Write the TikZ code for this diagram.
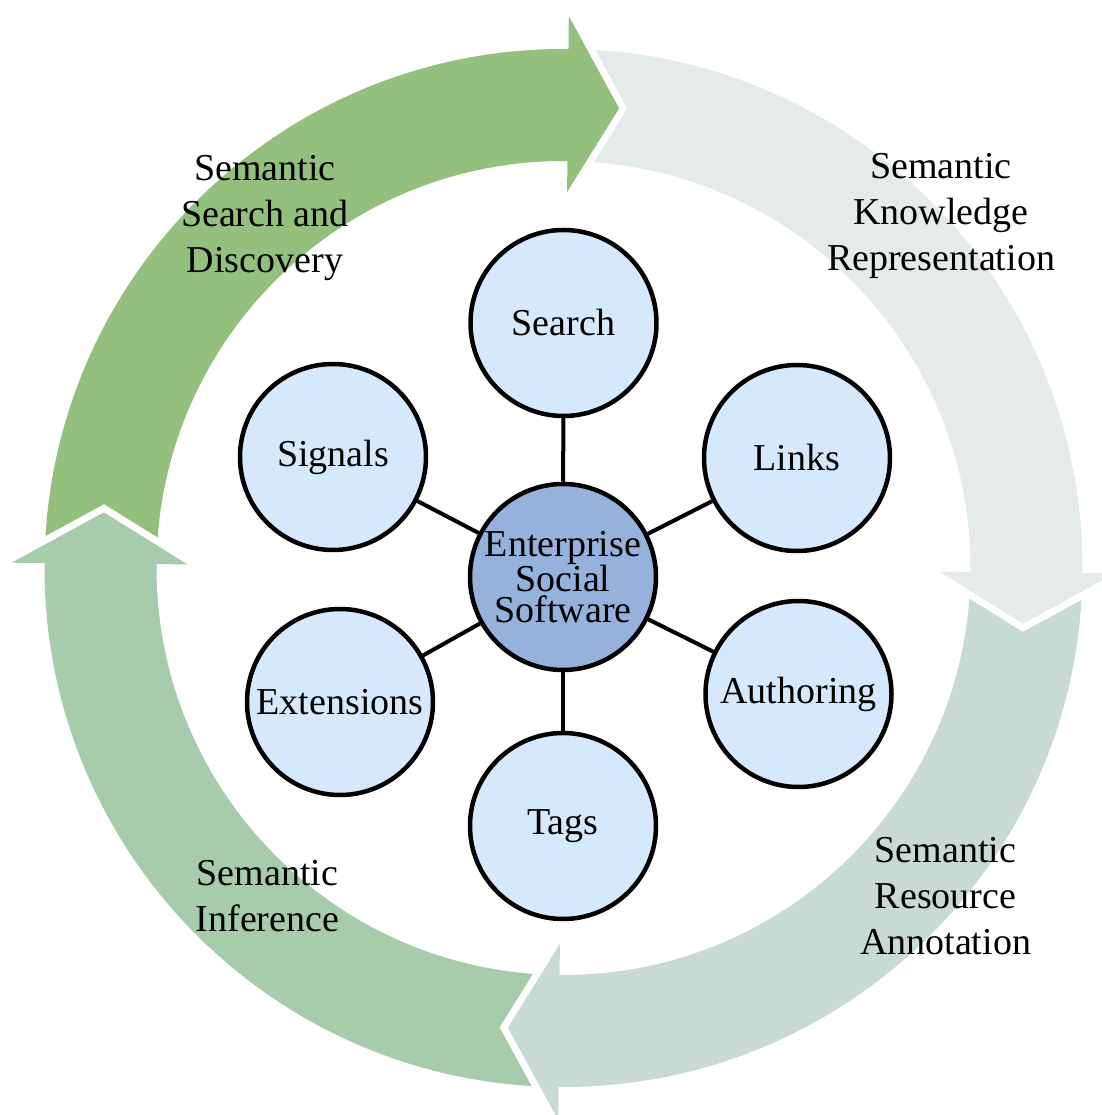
\documentclass[tikz,border=0pt]{standalone}
\usepackage{fontspec}
\setmainfont{Liberation Serif}
\usepackage{tikz}
\usetikzlibrary{calc}
\definecolor{arrowA}{HTML}{94C07E}
\definecolor{arrowB}{HTML}{E4EBEA}
\definecolor{arrowC}{HTML}{C7DBD4}
\definecolor{arrowD}{HTML}{A6CCAB}
\definecolor{bubbleblue}{HTML}{D6E8FC}
\definecolor{hubblue}{HTML}{94B2DC}
\tikzset{
  segment/.style={preaction={draw=white, line width=14pt}},
  bubble/.style={circle, draw=black, line width=4.5pt, fill=bubbleblue, minimum size=186pt, inner sep=0pt, font=\fontsize{38}{46}\selectfont},
  hub/.style={bubble, fill=hubblue, align=center, font=\fontsize{38}{31}\selectfont},
  phase/.style={align=center, font=\fontsize{38}{46}\selectfont},
  spoke/.style={line width=4pt}
}

\begin{document}
\begin{tikzpicture}[x=1pt, y=1pt]
        \useasboundingbox (-563.5, -547) rectangle (537.5, 568);
        \foreach \b/\col in {-180/arrowD, -90/arrowC, 0/arrowB, 90/arrowA} {
            \fill[segment, fill=\col] ({\b+89}:519) arc[start angle={\b+89}, end angle={\b-0.55}, radius=519]
                -- ({\b-0.55}:552) -- ({\b-6.9}:463) -- ({\b-0.55}:376) -- ({\b-0.55}:407)
                arc[start angle={\b-0.55}, end angle={\b+89}, radius=407] -- cycle;
        }
        \begin{scope}
            \clip (0, 0) -- (150:700) -- (210:700) -- cycle;
            \fill[segment, fill=arrowD] (-91:519) arc[start angle=-91, end angle=-180.55, radius=519]
                -- (-180.55:552) -- (-186.9:463) -- (-180.55:376) -- (-180.55:407)
                arc[start angle=-180.55, end angle=-91, radius=407] -- cycle;
        \end{scope}
        \node[phase] (discovery) at (-298.5, 350) {Semantic\\Search and\\Discovery};
        \node[phase] (knowledge) at (377.5, 352) {Semantic\\Knowledge\\Representation};
        \node[phase] (annotation) at (382, -328) {Semantic\\Resource\\Annotation};
        \node[phase] (inference) at (-296, -328.5) {Semantic\\Inference};
        \node[hub] (ess) at (-0.5, -9) {Enterprise\\Social\\Software};
        \node[bubble] (search) at (0, 245) {Search};
        \node[bubble] (links) at (233.5, 110) {Links};
        \node[bubble] (authoring) at (235, -126) {Authoring};
        \node[bubble] (tags) at (-0.5, -258) {Tags};
        \node[bubble] (extensions) at (-223.5, -134) {Extensions};
        \node[bubble] (signals) at (-230.5, 111) {Signals};
        \draw[spoke] (ess) -- (search); \draw[spoke] (ess) -- (links); \draw[spoke] (ess) -- (authoring);
        \draw[spoke] (ess) -- (tags); \draw[spoke] (ess) -- (extensions); \draw[spoke] (ess) -- (signals);
    \end{tikzpicture}
\end{document}
